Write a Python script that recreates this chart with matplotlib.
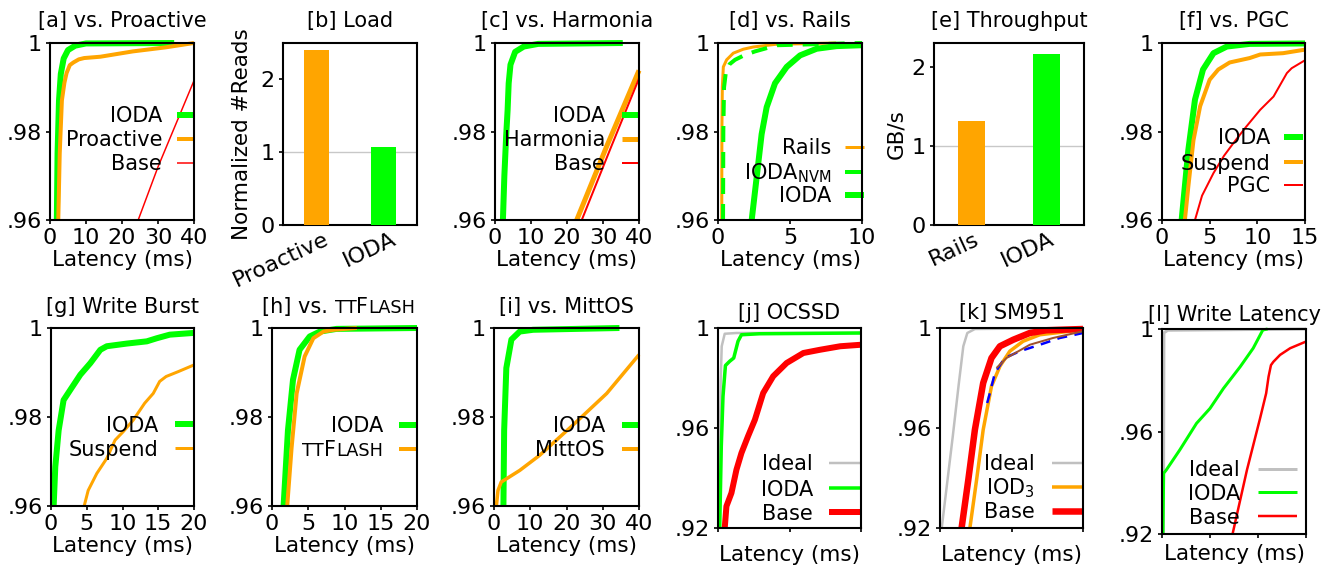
import matplotlib
matplotlib.use('Agg')
import matplotlib.pyplot as plt
import matplotlib.transforms as mtrans
from matplotlib.lines import Line2D

# ---------------- data ----------------
cdf_yticks = [0.96, 0.98, 1.0]
cdf_yticklabels = ['.96', '.98', '1']
wide_yticks = [0.92, 0.96, 1.0]
wide_yticklabels = ['.92', '.96', '1']

# [a] vs. Proactive
a_ioda_x = [1.9, 2.1, 2.5, 3.0, 3.8, 5.0, 7.0, 10.0, 34.5]
a_ioda_y = [0.96, 0.975, 0.987, 0.993, 0.9965, 0.9984, 0.9994, 0.9999, 1.0]
a_proactive_x = [2.3, 2.7, 3.3, 4.0, 4.6, 5.5, 6.5, 8.0, 9.5, 14.0, 18.5, 23.0, 28.0, 32.0, 36.0, 40.0]
a_proactive_y = [0.96, 0.975, 0.987, 0.991, 0.9932, 0.995, 0.9956, 0.9963, 0.9966, 0.9969, 0.9975, 0.9981, 0.9986, 0.999, 0.9995, 1.0]
a_base_x = [24.5, 30.0, 40.0]
a_base_y = [0.96, 0.972, 0.9915]

# [b] Load
b_labels = ['Proactive', 'IODA']
b_values = [2.41, 1.075]

# [c] vs. Harmonia
c_ioda_x = [2.2, 2.6, 3.1, 3.5, 3.8, 4.3, 5.6, 8.0, 12.0, 35.5]
c_ioda_y = [0.96, 0.970, 0.979, 0.9848, 0.9909, 0.9951, 0.998, 0.9992, 0.9998, 1.0]
c_harmonia_x = [22.7, 31.0, 40.0]
c_harmonia_y = [0.96, 0.9766, 0.9938]
c_base_x = [24.1, 31.9, 40.0]
c_base_y = [0.96, 0.9758, 0.992]

# [d] vs. Rails
d_rails_x = [0.26, 0.27, 0.3, 0.37, 0.6, 1.06, 1.76, 2.45, 4.0, 8.2]
d_rails_y = [0.96, 0.98, 0.99, 0.9946, 0.9962, 0.9977, 0.9986, 0.9991, 0.9997, 1.0]
d_nvm_x = [0.35, 0.37, 0.42, 0.55, 0.8, 1.18, 1.8, 2.57, 4.1, 10.0]
d_nvm_y = [0.96, 0.98, 0.99, 0.9935, 0.9952, 0.9962, 0.9972, 0.9981, 0.9995, 1.0]
d_ioda_x = [2.34, 2.69, 3.03, 3.38, 3.96, 4.77, 5.7, 6.85, 8.24, 10.0]
d_ioda_y = [0.96, 0.9698, 0.9794, 0.9855, 0.9909, 0.9946, 0.9972, 0.9987, 0.9993, 0.9995]

# [e] Throughput
e_labels = ['Rails', 'IODA']
e_values = [1.32, 2.16]

# [f] vs. PGC
f_ioda_x = [2.06, 2.76, 3.46, 4.3, 5.4, 6.8, 9.2, 15.0]
f_ioda_y = [0.96, 0.9758, 0.9872, 0.994, 0.9977, 0.9992, 0.9998, 0.9999]
f_suspend_x = [2.4, 2.76, 3.3, 4.0, 5.0, 5.9, 7.1, 9.2, 10.3, 12.7, 15.0]
f_suspend_y = [0.96, 0.9675, 0.978, 0.9857, 0.9917, 0.994, 0.9956, 0.9966, 0.9974, 0.9977, 0.9985]
f_pgc_x = [3.46, 4.2, 5.4, 6.5, 7.5, 8.8, 10.3, 11.7, 13.1, 13.6, 15.0]
f_pgc_y = [0.96, 0.9655, 0.9706, 0.9745, 0.9774, 0.981, 0.9849, 0.9879, 0.9932, 0.9943, 0.9961]

# [g] Write Burst
g_ioda_x = [0.37, 0.6, 1.07, 1.76, 2.7, 4.1, 5.5, 6.9, 7.8, 10.6, 13.4, 14.8, 16.6, 20.0]
g_ioda_y = [0.96, 0.9688, 0.977, 0.9838, 0.9861, 0.9895, 0.9921, 0.9951, 0.9959, 0.9965, 0.997, 0.9977, 0.9985, 0.9989]
g_suspend_x = [4.64, 5.2, 6.4, 7.8, 8.96, 10.1, 11.5, 13.1, 14.3, 15.2, 16.1, 17.8, 20.0]
g_suspend_y = [0.96, 0.9635, 0.9673, 0.9707, 0.9748, 0.9767, 0.9793, 0.9831, 0.9853, 0.988, 0.9891, 0.9902, 0.9917]

# [h] vs. TTFlash
h_ioda_x = [1.6, 2.2, 2.9, 3.8, 5.2, 6.6, 8.9, 20.0]
h_ioda_y = [0.96, 0.977, 0.9884, 0.9951, 0.9981, 0.9992, 0.9998, 1.0]
h_ttflash_x = [2.1, 2.7, 3.4, 4.5, 5.7, 7.1, 8.5, 11.7]
h_ttflash_y = [0.96, 0.973, 0.9853, 0.9936, 0.9977, 0.9992, 0.9996, 1.0]

# [i] vs. MittOS
i_ioda_x = [2.6, 2.8, 3.4, 4.8, 7.1, 10.8, 34.6]
i_ioda_y = [0.96, 0.977, 0.991, 0.9974, 0.9992, 0.9996, 1.0]
i_mittos_x = [0.65, 1.1, 2.0, 3.4, 7.1, 12.6, 21.8, 31.1, 40.0]
i_mittos_y = [0.96, 0.9635, 0.9654, 0.9661, 0.968, 0.9714, 0.9782, 0.9853, 0.994]

# [j] OCSSD
j_ideal_x = [0.7, 1.2, 1.9, 2.6, 4.7, 12.9, 100.0]
j_ideal_y = [0.92, 0.9527, 0.9793, 0.9927, 0.9977, 0.998, 0.998]
j_ioda_x = [1.2, 2.3, 3.5, 5.2, 8.2, 11.0, 14.0, 16.4, 29.0, 100.0]
j_ioda_y = [0.92, 0.9527, 0.9727, 0.985, 0.9867, 0.988, 0.9947, 0.9973, 0.9977, 0.998]
j_base_x = [4.7, 5.9, 9.4, 12.9, 16.4, 21.0, 25.8, 31.6, 38.6, 48.0, 59.7, 71.4, 85.5, 100.0]
j_base_y = [0.92, 0.9287, 0.934, 0.9433, 0.95, 0.9567, 0.9633, 0.974, 0.9807, 0.986, 0.99, 0.9913, 0.9927, 0.9933]

# [k] SM951
k_ideal_x = [1.2, 5.0, 9.0, 13.0, 16.3, 19.1, 24.4, 100.0]
k_ideal_y = [0.92, 0.938, 0.957, 0.977, 0.9927, 0.998, 0.9996, 1.0]
k_iod3_x = [20.9, 25.6, 30.2, 36.0, 41.9, 48.8, 58.1, 69.8, 100.0]
k_iod3_y = [0.92, 0.9393, 0.9593, 0.9767, 0.9847, 0.9907, 0.9947, 0.9973, 0.9993]
k_base_x = [15.1, 19.8, 24.4, 30.2, 36.0, 41.9, 51.2, 62.8, 74.4, 100.0]
k_base_y = [0.92, 0.9393, 0.9593, 0.978, 0.988, 0.9927, 0.9953, 0.998, 0.9991, 0.9996]
k_other1_x = [33.0, 34.9, 38.4, 45.3, 55.8, 69.8, 83.7, 100.0]
k_other1_y = [0.97, 0.974, 0.982, 0.988, 0.9907, 0.9933, 0.996, 0.998]
k_other2_x = [39.5, 46.5, 62.8, 79.0, 100.0]
k_other2_y = [0.984, 0.988, 0.9933, 0.996, 0.9987]

# [l] Write Latency
l_ideal_x = [0.03, 0.04, 0.12, 3.0]
l_ideal_y = [0.92, 0.9985, 0.9995, 1.0]
l_ioda_x = [0.02, 0.035, 0.09, 0.37, 0.72, 1.0, 1.28, 1.63, 1.9, 2.1, 2.2]
l_ioda_y = [0.92, 0.9437, 0.945, 0.9528, 0.9632, 0.969, 0.9768, 0.9853, 0.9925, 0.9996, 1.0]
l_base_x = [1.47, 1.77, 2.04, 2.17, 2.22, 2.27, 2.32, 2.46, 2.67, 3.0]
l_base_y = [0.92, 0.945, 0.9649, 0.9749, 0.9814, 0.9859, 0.9872, 0.9899, 0.9925, 0.9951]

# ---------------- style ----------------
plt.rcParams['font.family'] = ['DejaVu Sans']
plt.rcParams['lines.solid_capstyle'] = 'butt'
plt.rcParams['lines.dash_capstyle'] = 'butt'

GREEN = '#00ff00'
ORANGE = '#ffa500'
RED = '#ff0000'
GRAY = '#c0c0c0'
BLUE = '#0000ff'
BROWN = '#a0522d'

TICK_FS = 16
TITLE_FS = 15
LABEL_FS = 15.5
LEG_FS = 15
SMALLCAP = 0.85

W, H = 1330, 566
fig = plt.figure(figsize=(W / 100, H / 100), dpi=100)


def lw(px):
    return px * 0.72


BOX = {
    'a': (50, 194, 43, 220), 'b': (283, 417, 43, 225), 'c': (495, 639, 43, 220),
    'd': (718, 862, 43, 220), 'e': (934, 1084, 43, 225), 'f': (1162, 1305, 43, 220),
    'g': (51, 194, 328, 506), 'h': (272, 417, 328, 506), 'i': (494, 639, 328, 506),
    'j': (718, 861, 328, 528), 'k': (940, 1083, 328, 528), 'l': (1162, 1306, 329, 534),
}


def fx(key, px):
    l, r, t, b = BOX[key]
    return (px - l) / (r - l)


def fy(key, py):
    l, r, t, b = BOX[key]
    return (b - py) / (b - t)


def make_ax(key):
    l, r, t, b = BOX[key]
    ax = fig.add_axes([l / W, 1 - b / H, (r - l) / W, (b - t) / H])
    for s in ax.spines.values():
        s.set_linewidth(1.5)
    ax.tick_params(direction='out', length=3, width=1.2, labelsize=TICK_FS, pad=3)
    return ax


def rich_text(ax, x, y, runs, ha, fs):
    if isinstance(runs, str):
        runs = [(runs, 1.0)]
    prev = None
    seq = list(reversed(runs)) if ha == 'right' else list(runs)
    for s, scale in seq:
        if prev is None:
            prev = ax.text(x, y, s, fontsize=fs * scale, ha=ha, va='baseline',
                           transform=ax.transAxes, clip_on=False)
        else:
            prev = ax.annotate(s, xy=(0 if ha == 'right' else 1, y),
                               xycoords=(prev, ax.transAxes), fontsize=fs * scale,
                               ha=ha, va='baseline', annotation_clip=False)
    return prev


def draw_legend(ax, key, xt, x0, x1, rows):
    for runs, y, color, wpx, ls in rows:
        yl = fy(key, y)
        ax.add_line(Line2D([fx(key, x0), fx(key, x1)], [yl, yl], transform=ax.transAxes,
                           color=color, lw=lw(wpx), ls=ls, clip_on=False))
        rich_text(ax, fx(key, xt), fy(key, y + 7.5), runs, 'right', LEG_FS)


def cdf_axes(key, title, xlim, xticks, yticks, yticklabels, pad, xlabels=True, labelpad=1):
    ax = make_ax(key)
    ax.set_xlim(*xlim)
    ax.set_ylim(yticks[0], yticks[-1])
    ax.set_yticks(yticks)
    ax.set_yticklabels(yticklabels)
    ax.set_xticks(xticks)
    if not xlabels:
        ax.set_xticklabels([''] * len(xticks))
    ax.set_xlabel('Latency (ms)', fontsize=LABEL_FS, labelpad=labelpad)
    if title is not None:
        ax.set_title(title, fontsize=TITLE_FS, pad=pad)
    return ax


def curve(ax, x, y, color, wpx, ls='-', z=2):
    ax.plot(x, y, color=color, lw=lw(wpx), ls=ls, clip_on=False, zorder=z)


def bar_axes(key, title, labels, values, ylim, yticks, ylabel, ylabelpad, dx):
    ax = make_ax(key)
    pos = list(range(len(labels)))
    ax.axhline(1, color='#c8c8c8', lw=1.0, zorder=1)
    ax.bar(pos, values, width=0.36, color=[ORANGE, GREEN], zorder=3)
    ax.set_xlim(-0.5, len(labels) - 0.5)
    ax.set_ylim(*ylim)
    ax.set_yticks(yticks)
    ax.set_xticks(pos)
    ax.set_xticklabels(labels, rotation=25, ha='right', rotation_mode='anchor')
    ax.tick_params(axis='x', length=0, pad=3)
    off = mtrans.ScaledTranslation(dx / 100, 0, fig.dpi_scale_trans)
    for lab in ax.get_xticklabels():
        lab.set_transform(lab.get_transform() + off)
    ax.set_ylabel(ylabel, fontsize=LABEL_FS, labelpad=ylabelpad)
    ax.set_title(title, fontsize=TITLE_FS, pad=11.5)
    return ax


# [a]
ax = cdf_axes('a', '[a] vs. Proactive', (0, 40), [0, 10, 20, 30, 40], cdf_yticks, cdf_yticklabels, 11.5)
curve(ax, a_ioda_x, a_ioda_y, GREEN, 6)
curve(ax, a_proactive_x, a_proactive_y, ORANGE, 4)
curve(ax, a_base_x, a_base_y, RED, 1.5)
draw_legend(ax, 'a', 162, 177, 194, [('IODA', 115, GREEN, 6, '-'),
                                     ('Proactive', 139, ORANGE, 4, '-'),
                                     ('Base', 163, RED, 1.5, '-')])

# [b]
bar_axes('b', '[b] Load', b_labels, b_values, (0, 2.5), [0, 1, 2], 'Normalized #Reads', 6, 7)

# [c]
ax = cdf_axes('c', '[c] vs. Harmonia', (0, 40), [0, 10, 20, 30, 40], cdf_yticks, cdf_yticklabels, 11.5)
curve(ax, c_ioda_x, c_ioda_y, GREEN, 6)
curve(ax, c_harmonia_x, c_harmonia_y, ORANGE, 5)
curve(ax, c_base_x, c_base_y, RED, 2)
draw_legend(ax, 'c', 605, 622, 639, [('IODA', 115, GREEN, 6, '-'),
                                      ('Harmonia', 139, ORANGE, 5, '-'),
                                      ('Base', 163, RED, 2, '-')])

# [d]
ax = cdf_axes('d', '[d] vs. Rails', (0, 10), [0, 5, 10], cdf_yticks, cdf_yticklabels, 11.5)
curve(ax, d_rails_x, d_rails_y, ORANGE, 3)
curve(ax, d_nvm_x, d_nvm_y, GREEN, 4, ls=(0, (4, 2.5)))
curve(ax, d_ioda_x, d_ioda_y, GREEN, 6)
draw_legend(ax, 'd', 831, 845, 864, [('Rails', 147, ORANGE, 3, '-'),
                                      ('IODA$_{\\mathregular{NVM}}$', 172, GREEN, 4, (0, (4, 2.5))),
                                      ('IODA', 195, GREEN, 6, '-')])

# [e]
bar_axes('e', '[e] Throughput', e_labels, e_values, (0, 2.3), [0, 1, 2], 'GB/s', 4, 2)

# [f]
ax = cdf_axes('f', '[f] vs. PGC', (0, 15), [0, 5, 10, 15], cdf_yticks, cdf_yticklabels, 11.5)
curve(ax, f_ioda_x, f_ioda_y, GREEN, 6)
curve(ax, f_suspend_x, f_suspend_y, ORANGE, 4)
curve(ax, f_pgc_x, f_pgc_y, RED, 2)
draw_legend(ax, 'f', 1270, 1284, 1303, [('IODA', 137, GREEN, 6, '-'),
                                         ('Suspend', 162, ORANGE, 4, '-'),
                                         ('PGC', 185, RED, 2, '-')])

# [g]
ax = cdf_axes('g', '[g] Write Burst', (0, 20), [0, 5, 10, 15, 20], cdf_yticks, cdf_yticklabels, 10.8)
curve(ax, g_ioda_x, g_ioda_y, GREEN, 6)
curve(ax, g_suspend_x, g_suspend_y, ORANGE, 3)
draw_legend(ax, 'g', 158, 175, 194, [('IODA', 424, GREEN, 6, '-'),
                                     ('Suspend', 448, ORANGE, 3, '-')])

# [h]
ax = cdf_axes('h', None, (0, 20), [0, 5, 10, 15, 20], cdf_yticks, cdf_yticklabels, 10.8)
curve(ax, h_ioda_x, h_ioda_y, GREEN, 6)
curve(ax, h_ttflash_x, h_ttflash_y, ORANGE, 4)
t0 = ax.text(fx('h', 262), fy('h', 313), '[h] vs.', fontsize=TITLE_FS, ha='left',
             va='baseline', transform=ax.transAxes)
t1 = ax.annotate('TT', xy=(1, fy('h', 313)), xycoords=(t0, ax.transAxes), xytext=(4.8, 0),
                 textcoords='offset points', fontsize=TITLE_FS * SMALLCAP, ha='left', va='baseline',
                 annotation_clip=False)
t2 = ax.annotate('F', xy=(1, fy('h', 313)), xycoords=(t1, ax.transAxes), fontsize=TITLE_FS,
                 ha='left', va='baseline', annotation_clip=False)
ax.annotate('LASH', xy=(1, fy('h', 313)), xycoords=(t2, ax.transAxes), fontsize=TITLE_FS * SMALLCAP,
            ha='left', va='baseline', annotation_clip=False)
draw_legend(ax, 'h', 383, 399, 417, [('IODA', 425, GREEN, 6, '-'),
                                     ([('TT', SMALLCAP), ('F', 1.0), ('LASH', SMALLCAP)], 449, ORANGE, 4, '-')])

# [i]
ax = cdf_axes('i', '[i] vs. MittOS', (0, 40), [0, 10, 20, 30, 40], cdf_yticks, cdf_yticklabels, 10.8)
curve(ax, i_ioda_x, i_ioda_y, GREEN, 6)
curve(ax, i_mittos_x, i_mittos_y, ORANGE, 3.5)
draw_legend(ax, 'i', 605, 622, 639, [('IODA', 425, GREEN, 6, '-'),
                                      ('MittOS', 449, ORANGE, 4, '-')])

# [j]
ax = cdf_axes('j', '[j] OCSSD', (0, 100), [0, 50, 100], wide_yticks, wide_yticklabels, 6.5,
              xlabels=False, labelpad=6)
curve(ax, j_ideal_x, j_ideal_y, GRAY, 2.5)
curve(ax, j_ioda_x, j_ioda_y, GREEN, 3.5)
curve(ax, j_base_x, j_base_y, RED, 6)
draw_legend(ax, 'j', 813, 829, 861, [('Ideal', 463, GRAY, 2.5, '-'),
                                      ('IODA', 488, GREEN, 3.5, '-'),
                                      ('Base', 512, RED, 6, '-')])

# [k]
ax = cdf_axes('k', '[k] SM951', (0, 100), [0, 50, 100], wide_yticks, wide_yticklabels, 6.5,
              xlabels=False, labelpad=6)
curve(ax, k_ideal_x, k_ideal_y, GRAY, 2.5)
curve(ax, k_iod3_x, k_iod3_y, ORANGE, 3.5)
curve(ax, k_base_x, k_base_y, RED, 6.5)
curve(ax, k_other1_x, k_other1_y, BLUE, 2.5, ls=(0, (4, 3)))
curve(ax, k_other2_x, k_other2_y, BROWN, 2)
draw_legend(ax, 'k', 1035, 1052, 1083, [('Ideal', 463, GRAY, 2.5, '-'),
                                         ('IOD$_{\\mathregular{3}}$', 487, ORANGE, 3.5, '-'),
                                         ('Base', 511, RED, 6.5, '-')])

# [l]
ax = cdf_axes('l', '[l] Write Latency', (0, 3), [0, 1, 2, 3], wide_yticks, wide_yticklabels, 6,
              xlabels=False, labelpad=1.5)
curve(ax, l_ideal_x, l_ideal_y, GRAY, 3)
curve(ax, l_ioda_x, l_ioda_y, GREEN, 3)
curve(ax, l_base_x, l_base_y, RED, 2.5)
draw_legend(ax, 'l', 1240, 1258, 1297, [('Ideal', 469, GRAY, 3, '-'),
                                         ('IODA', 492, GREEN, 3, '-'),
                                         ('Base', 516, RED, 2.5, '-')])

fig.savefig('out.png', dpi=100)
